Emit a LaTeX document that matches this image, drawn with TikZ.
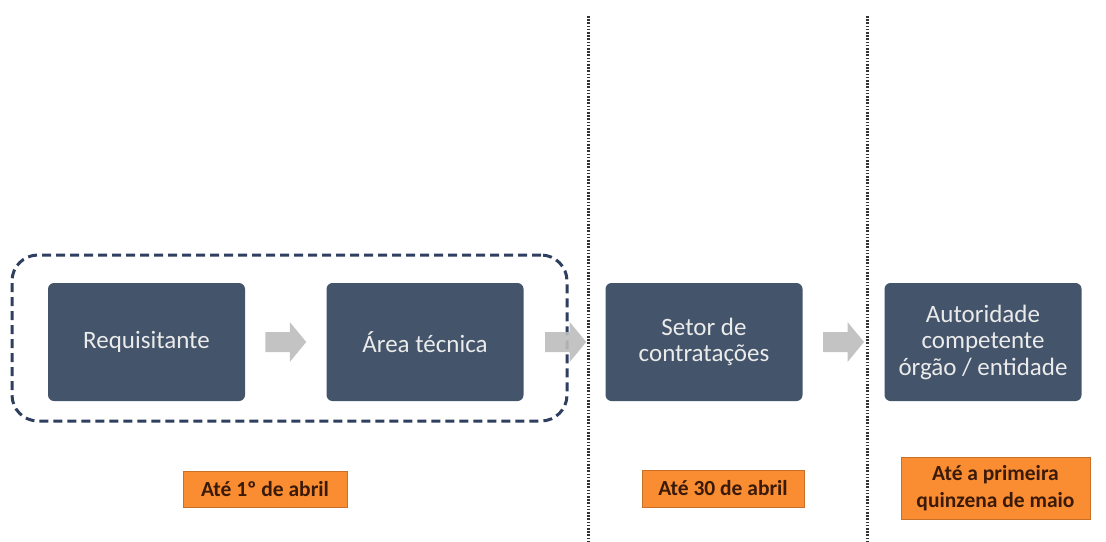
\documentclass[tikz,border=0pt]{standalone}
\usepackage{fontspec}
\setmainfont{Carlito}
\usetikzlibrary{calc}
\definecolor{boxblue}{HTML}{44546A}
\definecolor{navy}{HTML}{2F3F5F}
\definecolor{arrowgray}{HTML}{BDBDBD}
\definecolor{orangefill}{HTML}{FA8C32}
\definecolor{labeltext}{HTML}{3A1A08}
\tikzset{
  stepbox/.style={draw=none, fill=boxblue, rounded corners=6pt, minimum width=197pt, minimum height=118pt,
    text=white!92!black, font=\fontsize{25}{26.5}\selectfont, align=center, inner sep=0pt},
  datebox/.style={fill=orangefill, draw=orangefill!80!black, line width=0.4pt, text=labeltext,
    font=\bfseries\fontsize{21.5}{27}\selectfont, align=center, inner sep=0pt},
  divider/.style={line width=3pt, dash pattern=on 1.6pt off 1.6pt, color=black!80},
  groupframe/.style={draw=navy, line width=3pt, dash pattern=on 9pt off 5pt, rounded corners=26pt}
}
\newcommand{\blockarrow}[1]{%
  \fill[arrowgray, opacity=0.9] ($(#1)+(-20.5,-10)$) -- ($(#1)+(4,-10)$) -- ($(#1)+(4,-20)$) -- ($(#1)+(20.5,0)$)
    -- ($(#1)+(4,20)$) -- ($(#1)+(4,10)$) -- ($(#1)+(-20.5,10)$) -- cycle;}
\begin{document}
\begin{tikzpicture}[x=1pt,y=-1pt]
\useasboundingbox (0,0) rectangle (1106,541);
\fill[white] (0,0) rectangle (1106,541);

% dividers
\coordinate (d1t) at (588,16);
\coordinate (d1b) at (588,541);
\coordinate (d2t) at (867,16);
\coordinate (d2b) at (867,541);

% group frame
\node[groupframe, minimum width=555pt, minimum height=166pt, inner sep=0pt] (grp) at (289.5,338) {};

% step boxes
\node[stepbox] (req) at (146.5,342) {Requisitante};
\node[stepbox] (area) at (425,342) {Área técnica};
\node[stepbox] (setor) at (704,342) {Setor de\\contratações};
\node[stepbox] (aut) at (983,342) {Autoridade\\competente\\órgão / entidade};

% block arrows between boxes
\coordinate (a1) at ($(req.east)!0.5!(area.west)$);
\coordinate (a2) at ($(area.east)+(42,0)$);
\coordinate (a3) at ($(setor.east)!0.5!(aut.west)$);
\blockarrow{a1}
\blockarrow{a2}
\blockarrow{a3}

\draw[divider] (d1t) -- (d1b);
\draw[divider] (d2t) -- (d2b);

% date labels
\node[datebox, minimum width=164pt, minimum height=36pt] (t1) at (265,489) {Até 1º de abril};
\node[datebox, minimum width=162pt, minimum height=37pt] (t2) at (723,488.5) {Até 30 de abril};
\node[datebox, minimum width=189pt, minimum height=62pt] (t3) at (995.5,488) {Até a primeira\\quinzena de maio};
\end{tikzpicture}
\end{document}
